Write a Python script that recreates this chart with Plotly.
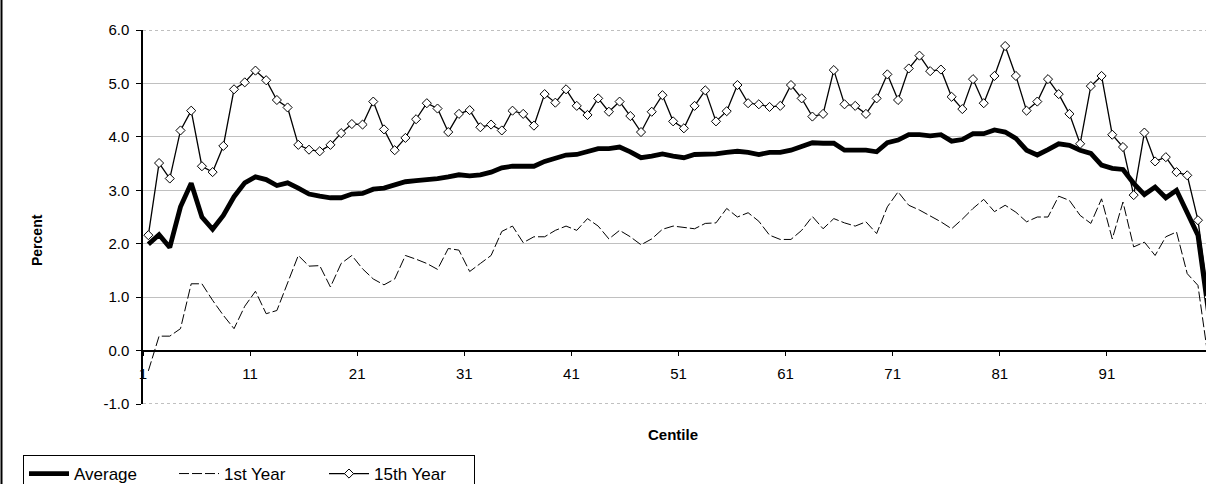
import plotly.graph_objects as go

centiles = list(range(1, 101))

average = [1.99, 2.17, 1.93, 2.69, 3.13, 2.50, 2.27, 2.53, 2.88, 3.14,
           3.25, 3.20, 3.09, 3.14, 3.04, 2.93, 2.89, 2.86, 2.86, 2.93,
           2.94, 3.02, 3.04, 3.09, 3.16, 3.18, 3.19, 3.22, 3.25, 3.29,
           3.27, 3.29, 3.34, 3.42, 3.45, 3.45, 3.45, 3.54, 3.61, 3.66,
           3.67, 3.72, 3.78, 3.78, 3.81, 3.72, 3.61, 3.64, 3.68, 3.64,
           3.61, 3.67, 3.67, 3.68, 3.71, 3.73, 3.71, 3.67, 3.71, 3.71,
           3.75, 3.81, 3.89, 3.88, 3.88, 3.75, 3.75, 3.75, 3.72, 3.89,
           3.94, 4.04, 4.04, 4.02, 4.04, 3.92, 3.95, 4.06, 4.06, 4.13,
           4.09, 3.97, 3.75, 3.66, 3.76, 3.87, 3.84, 3.75, 3.69, 3.47,
           3.41, 3.39, 3.13, 2.92, 3.06, 2.86, 3.00, 2.59, 2.16, 0.70]

first_year = [-0.38, 0.27, 0.27, 0.41, 1.25, 1.25, 0.94, 0.66, 0.41, 0.83,
              1.11, 0.69, 0.75, 1.27, 1.78, 1.58, 1.59, 1.19, 1.63, 1.78,
              1.53, 1.34, 1.23, 1.34, 1.78, 1.71, 1.63, 1.52, 1.91, 1.88,
              1.48, 1.63, 1.78, 2.23, 2.33, 2.02, 2.13, 2.13, 2.25, 2.33,
              2.25, 2.47, 2.33, 2.09, 2.25, 2.13, 1.98, 2.09, 2.27, 2.33,
              2.30, 2.28, 2.38, 2.39, 2.66, 2.50, 2.58, 2.42, 2.16, 2.08,
              2.08, 2.25, 2.51, 2.28, 2.47, 2.39, 2.33, 2.41, 2.19, 2.69,
              2.97, 2.72, 2.63, 2.52, 2.41, 2.28, 2.46, 2.66, 2.83, 2.60,
              2.72, 2.59, 2.41, 2.50, 2.50, 2.89, 2.81, 2.53, 2.38, 2.84,
              2.09, 2.78, 1.94, 2.03, 1.78, 2.13, 2.22, 1.44, 1.22, -0.20]

fifteenth_year = [2.16, 3.51, 3.22, 4.12, 4.49, 3.45, 3.34, 3.83, 4.89, 5.02,
                  5.24, 5.06, 4.69, 4.55, 3.85, 3.76, 3.73, 3.85, 4.07, 4.24,
                  4.23, 4.66, 4.14, 3.75, 3.98, 4.33, 4.63, 4.53, 4.09, 4.43,
                  4.50, 4.18, 4.23, 4.12, 4.49, 4.43, 4.21, 4.80, 4.64, 4.89,
                  4.58, 4.41, 4.72, 4.47, 4.66, 4.39, 4.09, 4.47, 4.78, 4.29,
                  4.16, 4.58, 4.87, 4.29, 4.48, 4.97, 4.63, 4.61, 4.56, 4.58,
                  4.97, 4.72, 4.38, 4.43, 5.25, 4.61, 4.58, 4.43, 4.72, 5.17,
                  4.69, 5.28, 5.52, 5.23, 5.26, 4.75, 4.52, 5.08, 4.63, 5.14,
                  5.70, 5.14, 4.49, 4.66, 5.08, 4.80, 4.43, 3.87, 4.95, 5.14,
                  4.04, 3.81, 2.91, 4.08, 3.54, 3.62, 3.34, 3.28, 2.44, 1.00]

tick_labels = ["1", "11", "21", "31", "41", "51", "61", "71", "81", "91"]
y_ticks = [-1, 0, 1, 2, 3, 4, 5, 6]
y_tick_labels = ["-1.0", "0.0", "1.0", "2.0", "3.0", "4.0", "5.0", "6.0"]

W, H = 1206, 484
L, T, B = 143, 30, 80
slot = 10.71
x_lo = 0.5
x_hi = x_lo + (W - L) / slot

fig = go.Figure()
fig.add_trace(go.Scatter(x=centiles, y=average, name="Average", mode="lines",
                         line=dict(color="black", width=4.8)))
fig.add_trace(go.Scatter(x=centiles, y=first_year, name="1st Year", mode="lines",
                         line=dict(color="black", width=1, dash="10px,3px")))
fig.add_trace(go.Scatter(x=centiles, y=fifteenth_year, name="15th Year", mode="lines+markers",
                         line=dict(color="black", width=1.3),
                         marker=dict(symbol="diamond", size=7, color="white",
                                     line=dict(color="black", width=1))))

tickvals = [x_lo + 10 * i for i in range(len(tick_labels))]

fig.update_layout(
    width=W, height=H,
    margin=dict(l=L, r=0, t=T, b=B, pad=0, autoexpand=False),
    paper_bgcolor="white", plot_bgcolor="white",
    font=dict(family="Liberation Sans, Arial, sans-serif", color="black", size=15),
    xaxis=dict(range=[x_lo, x_hi], tickvals=tickvals, ticktext=tick_labels,
               anchor="free", position=1 / 7, showline=True, linecolor="black",
               linewidth=1.5, ticks="outside", ticklen=5, tickcolor="black",
               ticklabelstandoff=5,
               showgrid=False, zeroline=False, tickfont=dict(size=15)),
    yaxis=dict(range=[-1, 6], tickvals=y_ticks, ticktext=y_tick_labels,
               showline=True, linecolor="black", linewidth=1.5,
               ticks="outside", ticklen=5, tickcolor="black",
               ticklabelstandoff=4,
               showgrid=True, gridcolor="#c0c0c0", gridwidth=1,
               zeroline=False, tickfont=dict(size=15)),
    showlegend=True,
    legend=dict(orientation="h", x=(23 - L) / (W - L), xanchor="left",
                y=(H - B - 455) / (H - T - B), yanchor="top",
                bordercolor="black", borderwidth=1, bgcolor="white",
                font=dict(size=17), entrywidth=95, entrywidthmode="pixels",
                itemwidth=40),
)

for yv in (6, -1):
    fig.add_shape(type="line", xref="paper", x0=0, x1=1, yref="y", y0=yv, y1=yv,
                  line=dict(color="#808080", width=1, dash="dot"))

fig.add_annotation(text="<b>Percent</b>", xref="paper", yref="paper",
                   x=(37 - L) / (W - L), y=(H - B - 240) / (H - T - B),
                   xanchor="center", yanchor="middle",
                   textangle=-90, showarrow=False, font=dict(size=14))
fig.add_annotation(text="<b>Centile</b>", xref="paper", yref="paper",
                   x=(673 - L) / (W - L), y=(H - B - 434) / (H - T - B),
                   xanchor="center", yanchor="middle",
                   showarrow=False, font=dict(size=15))

# outer chart frame (left edge visible)
fig.add_shape(type="line", xref="paper", yref="paper",
              x0=(1.5 - L) / (W - L), x1=(1.5 - L) / (W - L),
              y0=(H - B - H) / (H - T - B), y1=(H - B - 0) / (H - T - B),
              line=dict(color="black", width=2))

fig.write_html("out.html", config={"displayModeBar": False},
               post_script="document.body.style.margin='0';document.body.style.padding='0';")
